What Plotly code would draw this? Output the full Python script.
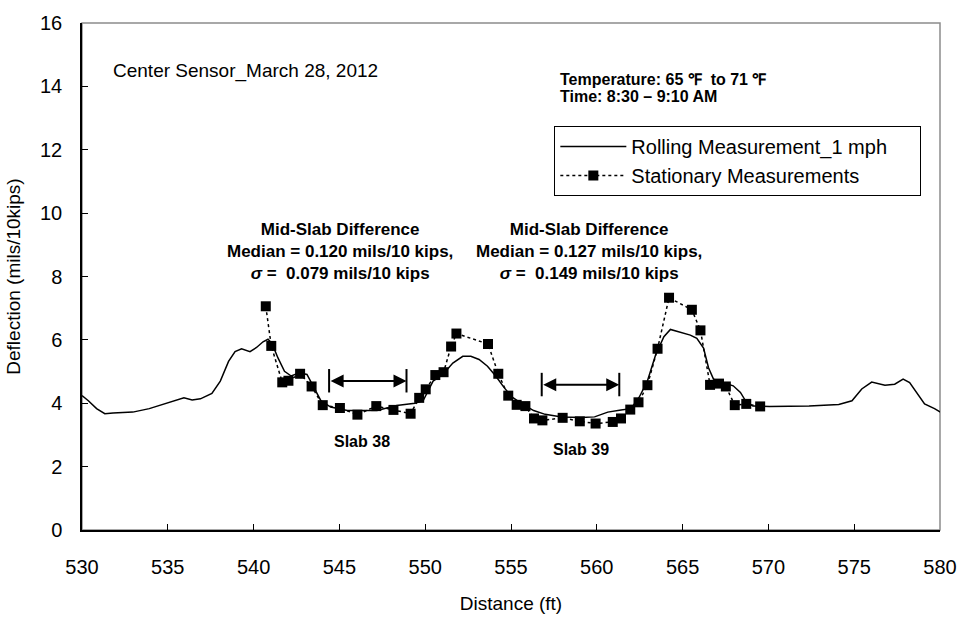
import plotly.graph_objects as go

rolling_x = [530.00, 530.37, 530.85, 531.33, 531.81, 532.96, 533.92, 534.88, 535.94, 536.42,
             536.90, 537.57, 538.06, 538.54, 538.92, 539.30, 539.79, 540.17, 540.55, 540.84,
             541.07, 541.42, 541.80, 542.19, 542.67, 543.11, 543.53, 543.92, 544.49, 545.46,
             546.61, 547.19, 548.34, 549.40, 549.88, 550.46, 551.03, 551.61, 552.19, 552.66,
             553.14, 553.63, 554.11, 554.59, 555.07, 555.65, 556.32, 556.99, 557.95, 559.11,
             559.87, 560.64, 561.41, 561.99, 562.47, 562.95, 563.43, 563.91, 564.29, 564.87,
             565.45, 565.83, 566.22, 566.51, 566.80, 567.37, 567.95, 568.37, 568.72, 569.10,
             570.06, 572.37, 574.10, 574.87, 575.44, 576.02, 576.79, 577.36, 577.85, 578.23,
             578.71, 579.10, 579.68, 580.10]
rolling_y = [4.24, 4.08, 3.83, 3.67, 3.69, 3.72, 3.83, 3.98, 4.17, 4.10,
             4.14, 4.31, 4.70, 5.32, 5.63, 5.72, 5.63, 5.76, 5.94, 6.02,
             5.89, 5.43, 5.01, 4.86, 4.96, 4.91, 4.50, 4.08, 3.88, 3.77,
             3.77, 3.77, 3.93, 4.00, 4.08, 4.70, 4.91, 5.27, 5.48, 5.48,
             5.38, 5.17, 4.86, 4.50, 4.19, 3.98, 3.77, 3.65, 3.57, 3.55,
             3.57, 3.72, 3.79, 3.83, 4.19, 4.70, 5.53, 6.10, 6.33, 6.23,
             6.15, 6.05, 5.74, 5.12, 4.76, 4.65, 4.55, 4.34, 4.03, 3.91,
             3.90, 3.91, 3.96, 4.08, 4.45, 4.67, 4.57, 4.60, 4.76, 4.65,
             4.29, 3.98, 3.83, 3.70]

# stationary measurements
stat_x = [540.71, 541.03, 541.67, 542.03, 542.71, 543.38, 544.03, 545.03, 546.05, 547.15,
          548.15, 549.15, 549.65, 550.03, 550.59, 551.07, 551.51, 551.82, 553.66, 554.26,
          554.84, 555.33, 555.84, 556.34, 556.83, 558.01, 559.01, 559.93, 560.93, 561.41,
          561.95, 562.43, 562.95, 563.54, 564.21, 565.54, 566.04, 566.60, 567.12, 567.52,
          568.04, 568.71, 569.52]
stat_y = [7.06, 5.81, 4.66, 4.71, 4.93, 4.53, 3.94, 3.85, 3.64, 3.91,
          3.79, 3.67, 4.17, 4.44, 4.89, 4.98, 5.79, 6.20, 5.87, 4.93,
          4.24, 3.95, 3.91, 3.52, 3.46, 3.54, 3.43, 3.36, 3.41, 3.52,
          3.80, 4.03, 4.57, 5.72, 7.33, 6.95, 6.30, 4.58, 4.62, 4.53,
          3.94, 3.98, 3.90]

# mid-slab spans (start, end, level) and labels
slab_names = ["Slab 38", "Slab 39"]
slab_start = [544.40, 556.79]
slab_end = [548.91, 561.31]
slab_level = [4.70, 4.58]
slab_label_x = [546.3, 559.1]
slab_label_y = [2.78, 2.53]

median_vals = ["0.120", "0.127"]
sigma_vals = ["0.079", "0.149"]
stat_text_x = [545.05, 559.53]
stat_text_y = [8.80, 8.80]

FONT = "Arial, Liberation Sans, sans-serif"
PAD = "\u00a0" * 5

fig = go.Figure()
fig.add_trace(go.Scatter(
    x=rolling_x, y=rolling_y, mode="lines",
    line=dict(color="black", width=1.5),
    name="Rolling Measurement_1 mph" + PAD
))
fig.add_trace(go.Scatter(
    x=stat_x, y=stat_y, mode="lines+markers",
    line=dict(color="black", width=1.5, dash="dot"),
    marker=dict(symbol="square", size=10, color="black"),
    name="Stationary Measurements"
))

annotations = []
shapes = [dict(type="rect", xref="paper", yref="paper", x0=0, x1=1, y0=0, y1=1,
               line=dict(color="#8c8c8c", width=1.5), layer="below")]

for i in range(2):
    # double headed arrow
    annotations.append(dict(
        x=slab_end[i], y=slab_level[i], ax=slab_start[i], ay=slab_level[i],
        xref="x", yref="y", axref="x", ayref="y", text="",
        showarrow=True, arrowhead=2, arrowside="end+start",
        arrowsize=1.3, arrowwidth=2, arrowcolor="black"
    ))
    for xx in (slab_start[i], slab_end[i]):
        shapes.append(dict(type="line", xref="x", yref="y", x0=xx, x1=xx,
                           y0=slab_level[i] - 0.36, y1=slab_level[i] + 0.38,
                           line=dict(color="black", width=2)))
    annotations.append(dict(
        x=slab_label_x[i], y=slab_label_y[i], xref="x", yref="y",
        text="<b>" + slab_names[i] + "</b>", showarrow=False,
        font=dict(family=FONT, size=16, color="black")
    ))
    annotations.append(dict(
        x=stat_text_x[i], y=stat_text_y[i], xref="x", yref="y",
        text="<b>Mid-Slab Difference<br>Median = " + median_vals[i] + " mils/10 kips,<br>"
             "<i>σ</i> =  " + sigma_vals[i] + " mils/10 kips</b>",
        showarrow=False, align="center",
        font=dict(family=FONT, size=17, color="black")
    ))

annotations.append(dict(
    x=0.034, y=0.906, xref="paper", yref="paper", xanchor="left", yanchor="middle",
    text="Center Sensor_March 28, 2012", showarrow=False,
    font=dict(family=FONT, size=19, color="black")
))
for txt, yy in (("Temperature: 65 ℉  to 71 ℉", 0.888), ("Time: 8:30 – 9:10 AM", 0.856)):
    annotations.append(dict(
        x=0.555, y=yy, xref="paper", yref="paper", xanchor="left", yanchor="middle",
        text="<b>" + txt + "</b>", showarrow=False,
        font=dict(family=FONT, size=16, color="black")
    ))

fig.update_layout(
    width=969, height=623,
    margin=dict(l=82, r=20, t=16, b=91),
    paper_bgcolor="white", plot_bgcolor="white",
    font=dict(family=FONT, size=20, color="black"),
    showlegend=True,
    legend=dict(
        x=0.5505, y=0.797, xanchor="left", yanchor="top",
        bordercolor="black", borderwidth=1, bgcolor="white",
        font=dict(family=FONT, size=20, color="black"),
        tracegroupgap=0, itemwidth=66
    ),
    annotations=annotations,
    shapes=shapes,
    xaxis=dict(
        range=[530, 580], dtick=5, tick0=530, showgrid=False, zeroline=False,
        showline=True, linecolor="black", linewidth=1.5,
        ticks="inside", ticklen=6, tickcolor="black",
        ticklabelstandoff=18, tickfont=dict(size=20),
        title=dict(text="Distance (ft)", standoff=20, font=dict(size=19))
    ),
    yaxis=dict(
        range=[0, 16], dtick=2, showgrid=False, zeroline=False,
        showline=True, linecolor="black", linewidth=1.5,
        ticks="inside", ticklen=6, tickcolor="black",
        ticklabelstandoff=14, tickfont=dict(size=20),
        title=dict(text="Deflection (mils/10kips)", standoff=14, font=dict(size=19))
    )
)

# drop the browser's default body margin so the figure sits at the page origin
fig.write_html("out.html", config={"displayModeBar": False},
               post_script="document.body.style.margin='0';document.body.style.overflow='hidden';")
